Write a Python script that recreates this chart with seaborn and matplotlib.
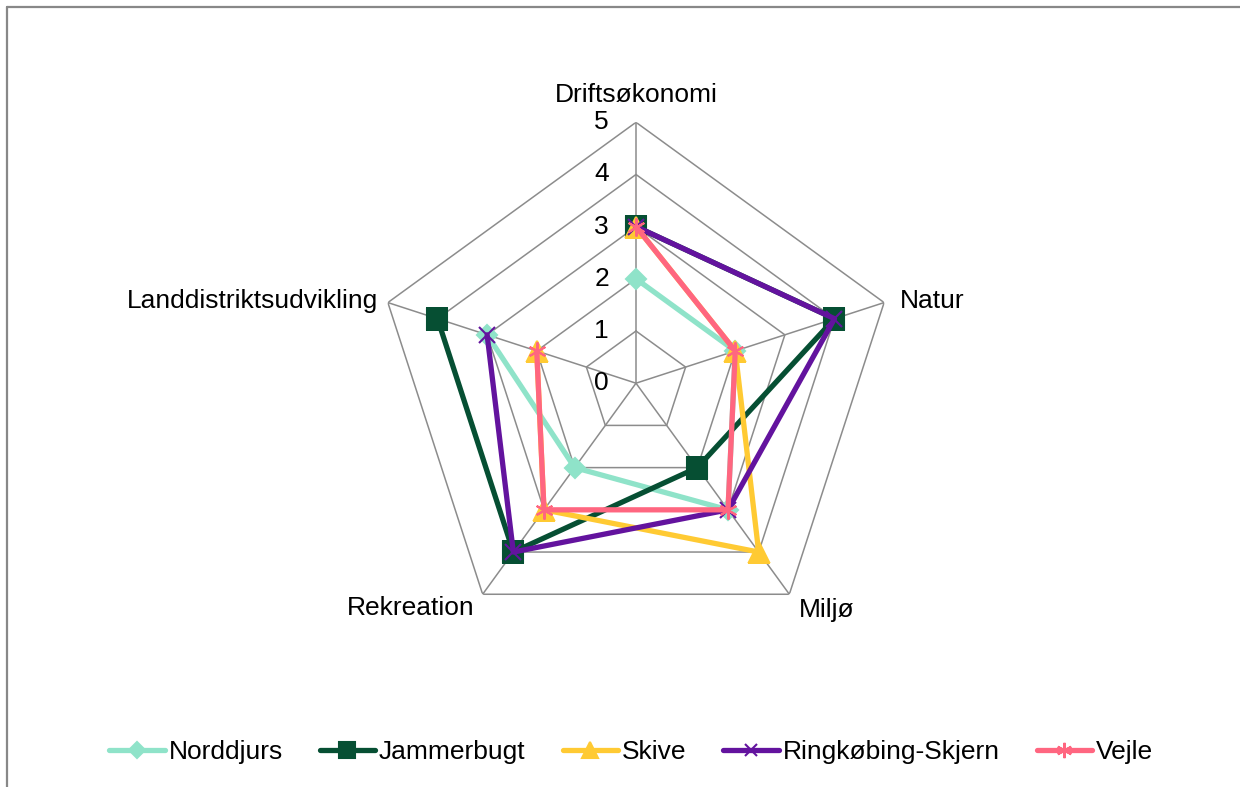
import numpy as np
import pandas as pd
import matplotlib
matplotlib.use('Agg')
import matplotlib.pyplot as plt
import matplotlib.transforms as mtransforms
from matplotlib.lines import Line2D
import seaborn as sns

# Data
categories = ['Driftsøkonomi', 'Natur', 'Miljø', 'Rekreation', 'Landdistriktsudvikling']
series_names = ['Norddjurs', 'Jammerbugt', 'Skive', 'Ringkøbing-Skjern', 'Vejle']
norddjurs = [2, 2, 3, 2, 3]
jammerbugt = [3, 4, 2, 4, 4]
skive = [3, 2, 4, 3, 2]
ringkobing = [3, 4, 3, 4, 3]
vejle = [3, 2, 3, 3, 2]
r_ticks = [0, 1, 2, 3, 4, 5]

values = [norddjurs, jammerbugt, skive, ringkobing, vejle]
colors = ['#8FE3C9', '#064F33', '#FFCA33', '#63139E', '#FF6680']
markers = ['D', 's', '^', 'x', (6, 2, 0)]
msizes = [10, 14, 14, 11, 13]

sns.set_theme(style='white')
plt.rcParams['font.family'] = ['Liberation Sans', 'DejaVu Sans']
FS = 19

fig = plt.figure(figsize=(12.4, 7.87), dpi=100)
fig.set_facecolor('white')
ax = fig.add_axes([0.3024, 0.1816, 0.421, 0.663], projection='polar')
ax.set_theta_zero_location('N')
ax.set_theta_direction(-1)
ax.set_ylim(0, 5)
ax.grid(False)
ax.spines['polar'].set_visible(False)
ax.set_xticks([])
ax.set_yticks([])
ax.set_facecolor('none')

n = len(categories)
theta = np.linspace(0, 2 * np.pi, n, endpoint=False)
theta_closed = np.append(theta, theta[0])

# polygon grid + spokes
grid_col = '#8C8C8C'
for r in r_ticks[1:]:
    ax.plot(theta_closed, [r] * (n + 1), color=grid_col, lw=1.1, zorder=1)
for t in theta:
    ax.plot([t, t], [0, 5], color=grid_col, lw=1.1, zorder=1)

# series (closed loops)
rows = []
for name, vals in zip(series_names, values):
    for i, t in enumerate(theta_closed):
        rows.append({'series': name, 'theta': t, 'value': vals[i % n]})
df = pd.DataFrame(rows)

for name, col, mk, ms in zip(series_names, colors, markers, msizes):
    sub = df[df['series'] == name]
    sns.lineplot(data=sub, x='theta', y='value', sort=False, ax=ax, color=col,
                 linewidth=3.8, marker=mk, markersize=ms, markeredgecolor=col,
                 markeredgewidth=1.5, legend=False, zorder=3)
ax.set_xlabel('')
ax.set_ylabel('')

# radial tick labels left of top spoke
off = mtransforms.offset_copy(ax.transData, fig=fig, x=-27, y=0, units='dots')
for r in r_ticks:
    ax.text(0, r, str(r), transform=off, ha='right', va='center', fontsize=FS, color='black')

# category labels, offset from the outer vertices
lab_off = [(0, 27, 'center'), (16, 2, 'left'), (10, -16, 'left'),
           (-8, -14, 'right'), (-10, 2, 'right')]
for t, (dx, dy, ha), lab in zip(theta, lab_off, categories):
    tr = mtransforms.offset_copy(ax.transData, fig=fig, x=dx, y=dy, units='dots')
    ax.text(t, 5, lab, transform=tr, ha=ha, va='center', fontsize=FS, color='black')

handles = [Line2D([0], [0], color=c, lw=3.8, marker=m, markersize=s * 0.85,
                  markeredgecolor=c, markeredgewidth=1.5)
           for c, m, s in zip(colors, markers, msizes)]
fig.legend(handles, series_names, loc='center', bbox_to_anchor=(0.509, 0.0445),
           ncol=5, frameon=False, fontsize=FS, handlelength=2.1, handletextpad=0.15,
           columnspacing=1.4, labelcolor='black')

# chart frame (top and left edges visible)
fig.add_artist(Line2D([7 / 1240, 1], [1 - 7 / 787, 1 - 7 / 787], color='#888888', lw=1.6,
                      transform=fig.transFigure))
fig.add_artist(Line2D([7 / 1240, 7 / 1240], [0, 1 - 7 / 787], color='#888888', lw=1.6,
                      transform=fig.transFigure))

plt.savefig('out.png', dpi=100)
